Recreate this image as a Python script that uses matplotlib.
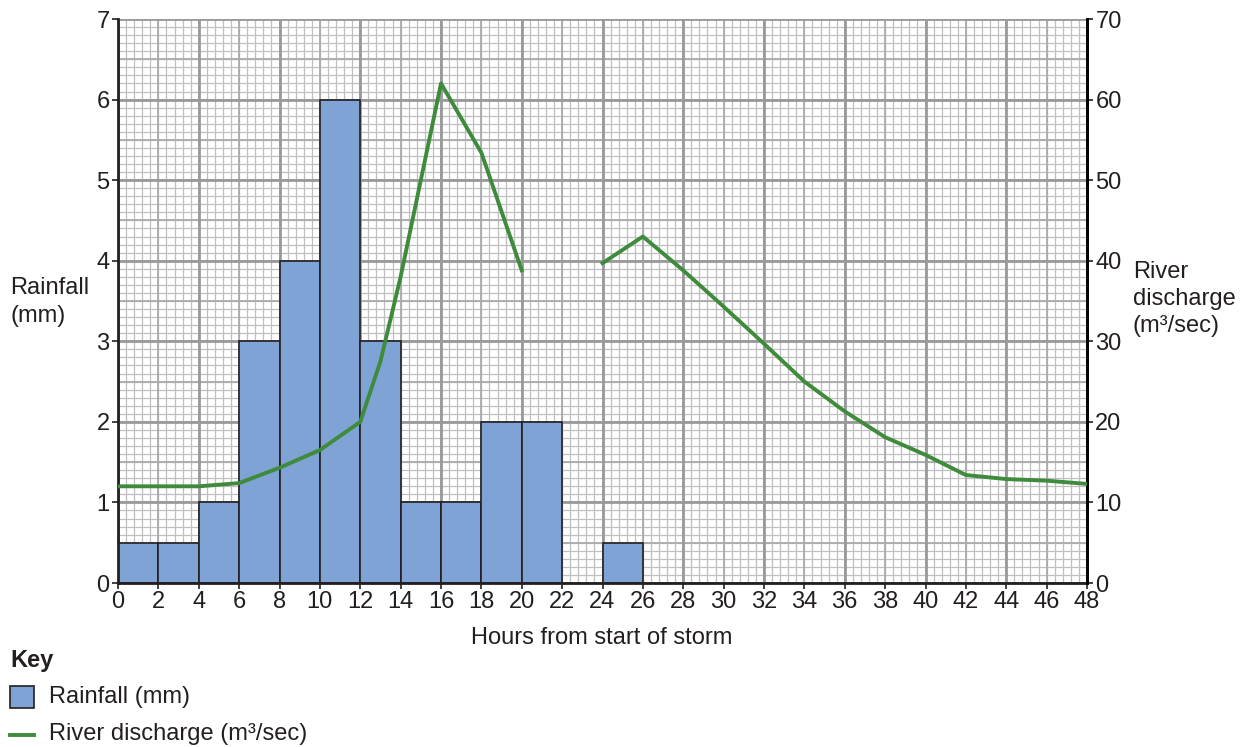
import numpy as np
import matplotlib
matplotlib.use("Agg")
import matplotlib.pyplot as plt
from matplotlib.patches import Rectangle
from matplotlib.lines import Line2D

plt.rcParams["font.family"] = ["Liberation Sans", "DejaVu Sans"]
TXT = "#231f20"
FS = 17

# --- datos ---
bar_start = [0, 2, 4, 6, 8, 10, 12, 14, 16, 18, 20, 24]
rainfall = [0.5, 0.5, 1, 3, 4, 6, 3, 1, 1, 2, 2, 0.5]
hours = [0, 4, 6, 8, 10, 12, 13, 14, 16, 18, 20, 22, 24, 26, 28, 30, 32, 34, 36, 38, 40, 42, 44, 46, 48]
discharge = [12, 12, 12.4, 14.3, 16.5, 20, 27.5, 38, 62, 53.4, 38.8, np.nan, 39.7, 43, 38.8, 34.3, 29.7,
             25, 21.3, 18.1, 15.9, 13.4, 12.9, 12.7, 12.3]
x_ticks = list(range(0, 49, 2))
rain_ticks = list(range(0, 8))
dis_ticks = list(range(0, 71, 10))

W, H = 1249, 747
fig = plt.figure(figsize=(W / 100, H / 100), dpi=100)
L, R, T, B = 118, 1087, 19, 583
ax = fig.add_axes([L / W, 1 - B / H, (R - L) / W, (B - T) / H])
ax.set_xlim(0, 48); ax.set_ylim(0, 7)

# papel milimetrado
for x in np.arange(0, 48.01, 0.4):
    ax.axvline(x, color="#bfbfc1", lw=0.9, zorder=0)
for y in np.arange(0, 7.01, 0.1):
    ax.axhline(y, color="#bfbfc1", lw=0.9, zorder=0)
for x in range(0, 49, 2):
    ax.axvline(x, color="#aaaaac", lw=1.3, zorder=0)
for y in np.arange(0, 7.01, 0.5):
    ax.axhline(y, color="#aaaaac", lw=1.3, zorder=0)
for x in range(0, 49, 4):
    ax.axvline(x, color="#9a9a9d", lw=2.0, zorder=0)
for y in range(0, 8):
    ax.axhline(y, color="#9a9a9d", lw=2.0, zorder=0)

ax.bar(bar_start, rainfall, width=2, align="edge", color="#7fa3d5", edgecolor="#231f20", lw=1.2, zorder=2)

ax.spines["top"].set_visible(False)
for s in ["left", "right", "bottom"]:
    ax.spines[s].set_linewidth(2.0)
    ax.spines[s].set_color("#231f20")
    ax.spines[s].set_zorder(5)
ax.set_xticks(x_ticks)
ax.set_yticks(rain_ticks)
ax.tick_params(direction="out", length=4, width=1.2, labelsize=FS, colors=TXT, pad=2)

ax2 = ax.twinx()
ax2.set_ylim(0, 70)
ax2.plot(hours, discharge, color="#3e8b3c", lw=2.8, zorder=3)
ax2.set_yticks(dis_ticks)
ax2.tick_params(direction="out", length=4, width=1.2, labelsize=FS, colors=TXT, pad=2)
for s in ["top", "left", "bottom"]:
    ax2.spines[s].set_visible(False)
ax2.spines["right"].set_linewidth(2.0)

fig.text(602 / W, 1 - 638 / H, "Hours from start of storm", ha="center", va="center", fontsize=FS, color=TXT)
fig.text(10 / W, 1 - 302 / H, "Rainfall\n(mm)", ha="left", va="center", fontsize=FS, color=TXT, linespacing=1.4)
fig.text(1133 / W, 1 - 299 / H, "River\ndischarge\n(m³/sec)", ha="left", va="center", fontsize=FS,
         color=TXT, linespacing=1.3)

# leyenda
fig.text(10 / W, 1 - 660 / H, "Key", ha="left", va="center", fontsize=FS, fontweight="bold", color=TXT)
fig.patches.append(Rectangle((10 / W, 1 - 708 / H), 24 / W, 22 / H, transform=fig.transFigure,
                             facecolor="#7fa3d5", edgecolor="#231f20", lw=1.2))
fig.text(49 / W, 1 - 697 / H, "Rainfall (mm)", ha="left", va="center", fontsize=FS, color=TXT)
fig.lines.append(Line2D([10 / W, 34 / W], [1 - 735 / H, 1 - 735 / H], transform=fig.transFigure,
                        color="#3e8b3c", lw=2.8))
fig.text(49 / W, 1 - 734 / H, "River discharge (m³/sec)", ha="left", va="center", fontsize=FS, color=TXT)

fig.savefig("out.png", dpi=100)
